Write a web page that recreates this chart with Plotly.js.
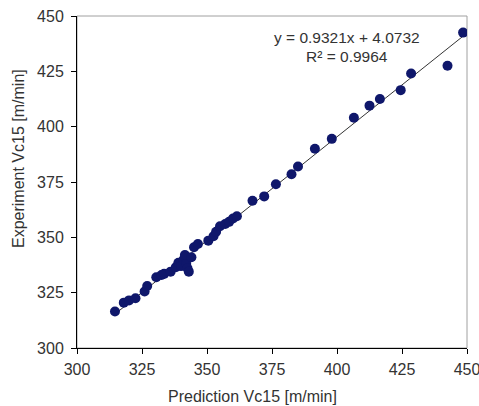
<!DOCTYPE html>
<html>
<head>
<meta charset="utf-8">
<script src="https://cdn.plot.ly/plotly-3.0.1.min.js"></script>
<style>html,body{margin:0;padding:0;background:#fff;}#chart{width:479px;height:406px;}</style>
</head>
<body>
<div id="chart"></div>
<script>
// Prediction Vc15 [m/min]
const predicted = [314.6, 318, 320, 322.5, 326, 327, 330.5, 332.5, 333.5, 336, 338, 339, 340, 341, 341.5, 342, 342.5, 343, 344, 345, 346.5, 350.5, 352.5, 353.5, 355, 357, 358.5, 360, 361.5, 367.5, 372, 376.5, 382.5, 385, 391.5, 398, 406.5, 412.5, 416.5, 424.5, 428.5, 442.5, 448.5];
// Experiment Vc15 [m/min]
const measured = [316.5, 320.5, 321.5, 322.5, 325.5, 328, 332, 333, 333.5, 334.5, 336.5, 338.5, 337, 340, 342, 338, 336, 334.5, 341, 345.5, 347, 348.5, 350.5, 352.5, 355, 356, 357, 358.5, 359.5, 366.5, 368.5, 374, 378.5, 382, 390, 394.5, 404, 409.5, 412.5, 416.5, 424, 427.5, 442.5];
const tickVals = [300, 325, 350, 375, 400, 425, 450];
const equationText = "y = 0.9321x + 4.0732";
const r2Text = "R² = 0.9964";
const xTitle = "Prediction Vc15 [m/min]";
const yTitle = "Experiment Vc15 [m/min]";

// linear trendline (least squares) spanning the data range
const n = predicted.length;
const mx = predicted.reduce((a, b) => a + b, 0) / n;
const my = measured.reduce((a, b) => a + b, 0) / n;
let sxy = 0, sxx = 0;
for (let i = 0; i < n; i++) { sxy += (predicted[i] - mx) * (measured[i] - my); sxx += (predicted[i] - mx) ** 2; }
const slope = sxy / sxx, intercept = my - slope * mx;
const xMin = Math.min(...predicted), xMax = Math.max(...predicted);
const trendX = [xMin, xMax];
const trendY = trendX.map(x => slope * x + intercept);

const font = {family: "Liberation Sans, Arial, sans-serif", size: 16, color: "#333"};
const annFont = {family: "Liberation Sans, Arial, sans-serif", size: 15.5, color: "#333"};

const data = [
  {x: trendX, y: trendY, mode: "lines", type: "scatter", line: {color: "#333", width: 1}, hoverinfo: "skip"},
  {x: predicted, y: measured, mode: "markers", type: "scatter", marker: {color: "#0f176b", size: 10}}
];

const axisCommon = {
  range: [300, 450], tickvals: tickVals, ticks: "outside", ticklen: 5, tickwidth: 1, tickcolor: "#000",
  showline: true, linecolor: "#000", linewidth: 1, showgrid: false, zeroline: false,
  tickfont: font, fixedrange: true, ticklabeloverflow: "allow"
};

const layout = {
  width: 479, height: 406,
  margin: {l: 77, r: 12, t: 16, b: 58},
  paper_bgcolor: "#fff", plot_bgcolor: "#fff",
  showlegend: false,
  xaxis: Object.assign({}, axisCommon, {ticklabelstandoff: 2}),
  yaxis: Object.assign({}, axisCommon, {ticklabelstandoff: 4}),
  shapes: [{type: "rect", xref: "paper", yref: "paper", x0: 0, x1: 1, y0: 0, y1: 1, line: {color: "#a0a0a0", width: 1}, layer: "below"}],
  annotations: [
    {text: equationText, x: 347, y: 37, showarrow: false, font: annFont},
    {text: r2Text, x: 347, y: 57, showarrow: false, font: annFont},
    {text: xTitle, x: 252, y: 396, showarrow: false, font: font},
    {text: yTitle, x: 18, y: 159, showarrow: false, font: font, textangle: -90}
  ]
};
// convert pixel-position annotations to paper coords
const pw = 479 - 77 - 12, ph = 406 - 16 - 58;
layout.annotations.forEach(a => {
  a.xref = "paper"; a.yref = "paper";
  a.x = (a.x - 77) / pw; a.y = (406 - 58 - a.y) / ph;
  a.xanchor = "center"; a.yanchor = "middle";
});

Plotly.newPlot("chart", data, layout, {staticPlot: true});
</script>
</body>
</html>
